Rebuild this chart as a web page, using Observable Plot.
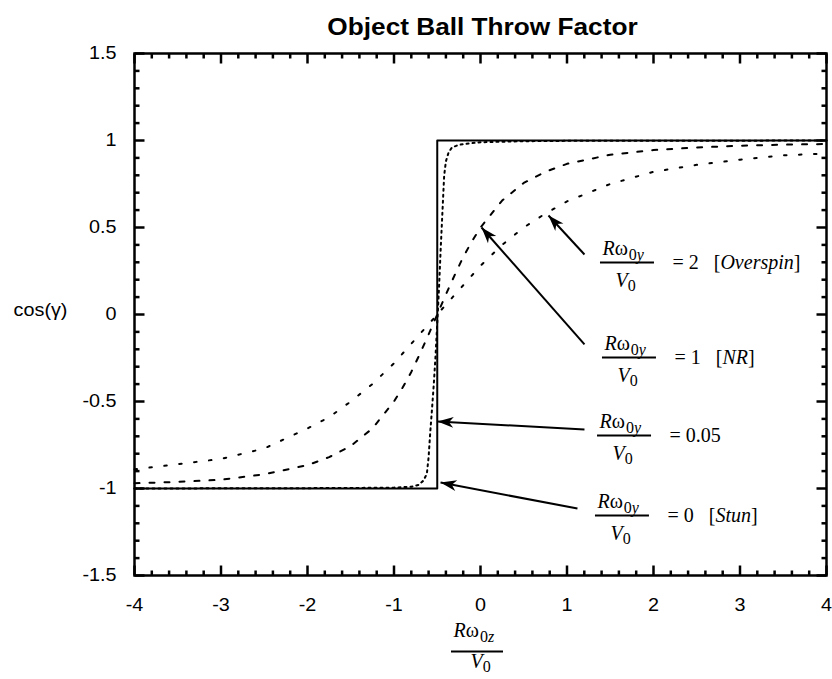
<!DOCTYPE html>
<html>
<head>
<meta charset="utf-8">
<script src="https://cdn.jsdelivr.net/npm/d3@7"></script>
<script src="https://cdn.jsdelivr.net/npm/@observablehq/plot@0.6"></script>
<style>
  html, body { margin: 0; padding: 0; background: #fff; }
  svg { display: block; }
</style>
</head>
<body>
<div id="chart"></div>
<script>
// ---------- texts ----------
const title = "Object Ball Throw Factor";
const yLabel = "cos(γ)";
const xTickValues = [-4, -3, -2, -1, 0, 1, 2, 3, 4];
const xTickLabels = ["-4", "-3", "-2", "-1", "0", "1", "2", "3", "4"];
const yTickValues = [-1.5, -1, -0.5, 0, 0.5, 1, 1.5];
const yTickLabels = ["-1.5", "-1", "-0.5", "0", "0.5", "1", "1.5"];

// ---------- series ----------
// R w0y / V0 = 0  [Stun]  (solid)
const stunX = [-4, -0.5, -0.5, 4];
const stunY = [-1, -1, 1, 1];
// R w0y / V0 = 0.05  (dense dots)
const spin005X = [-4, -3, -2, -1.5, -1, -0.8, -0.72, -0.66, -0.62, -0.6, -0.58, -0.56, -0.54, -0.52, -0.5, -0.48, -0.46, -0.44, -0.42, -0.4, -0.37, -0.33, -0.25, -0.1, 0, 0.5, 1, 2, 3, 4];
const spin005Y = [-1, -0.999, -0.998, -0.997, -0.995, -0.99, -0.98, -0.955, -0.915, -0.82, -0.67, -0.54, -0.4, -0.24, -0.05, 0.15, 0.38, 0.59, 0.8, 0.88, 0.93, 0.96, 0.975, 0.985, 0.99, 0.996, 0.998, 0.999, 0.999, 1];
// R w0y / V0 = 1  [NR]  (dashes)
const nrX = [-4, -3.5, -3, -2.5, -2, -1.75, -1.5, -1.25, -1, -0.9, -0.8, -0.7, -0.6, -0.5, -0.4, -0.3, -0.2, -0.1, 0, 0.25, 0.5, 0.75, 1, 1.5, 2, 2.5, 3, 3.5, 4];
const nrY = [-0.97, -0.962, -0.95, -0.918, -0.866, -0.82, -0.756, -0.655, -0.5, -0.42, -0.33, -0.225, -0.115, 0, 0.115, 0.225, 0.33, 0.42, 0.5, 0.655, 0.756, 0.82, 0.866, 0.918, 0.945, 0.96, 0.97, 0.976, 0.98];
// R w0y / V0 = 2  [Overspin]  (sparse dots)
const overX = [-4, -3.5, -3, -2.5, -2, -1.75, -1.5, -1.25, -1, -0.75, -0.5, -0.25, 0, 0.25, 0.5, 0.75, 1, 1.25, 1.5, 2, 2.5, 3, 3.5, 4];
const overY = [-0.89, -0.86, -0.83, -0.77, -0.655, -0.59, -0.5, -0.4, -0.28, -0.14, 0, 0.14, 0.28, 0.4, 0.5, 0.58, 0.65, 0.7, 0.75, 0.82, 0.86, 0.89, 0.915, 0.925];

// ---------- annotations (data units) ----------
const labelSpin = ["2", "1", "0.05", "0"];
const labelName = ["Overspin", "NR", "", "Stun"];
const labelX = [1.387, 1.410, 1.353, 1.329];   // left end of fraction bar
const labelY = [0.299, -0.247, -0.695, -1.155]; // fraction bar height
const arrowX1 = [1.202, 1.202, 1.202, 1.121];   // tail
const arrowY1 = [0.345, -0.172, -0.661, -1.115];
const arrowX2 = [0.786, 0.012, -0.497, -0.462]; // head
const arrowY2 = [0.569, 0.5, -0.615, -0.966];

// ---------- layout ----------
const W = 832, H = 679;
const mL = 134, mR = 6, mT = 53, mB = 104;
const kx = (W - mL - mR) / 8;   // px per x unit
const ky = (H - mT - mB) / 3;   // px per y unit
const serif = "'Liberation Serif', 'Times New Roman', Times, serif";
const sans = "'Liberation Sans', Arial, Helvetica, sans-serif";

const rows = (xs, ys) => xs.map((x, i) => ({x, y: ys[i]}));
const idx = labelSpin.map((d, i) => i);
const xMinor = d3.range(-40, 41, 2).filter(v => v % 10 !== 0).map(v => v / 10);
const yMinor = d3.range(-15, 16).filter(v => v % 5 !== 0).map(v => v / 10);
const major = 10, minor = 5;

const arrowHead = {
  draw(ctx) {
    ctx.moveTo(0, 0);
    ctx.lineTo(5.5, 16);
    ctx.lineTo(0, 11.5);
    ctx.lineTo(-5.5, 16);
    ctx.closePath();
  }
};
const tickSymbol = len => ({
  draw(ctx) {
    ctx.moveTo(0, 0);
    ctx.lineTo(0, -len);
  }
});
const headAngle = i => {
  const sx = (arrowX2[i] - arrowX1[i]) * kx;
  const sy = -(arrowY2[i] - arrowY1[i]) * ky;
  return Math.atan2(sx, -sy) * 180 / Math.PI;
};

const lineStyle = {x: "x", y: "y", stroke: "#000", strokeWidth: 2};
const tickStyle = {stroke: "#000", strokeWidth: 2.5};

// inward tick segments on all four sides (symbol pointing up, rotated per side)
const ticksAt = (vals, len, side) => {
  const pos = side === "bottom" ? {x: d => d, y: () => -1.5, rotate: 0}
    : side === "top" ? {x: d => d, y: () => 1.5, rotate: 180}
    : side === "left" ? {y: d => d, x: () => -4, rotate: 90}
    : {y: d => d, x: () => 4, rotate: -90};
  return Plot.dot(vals, {...pos, symbol: tickSymbol(len), fill: "none", ...tickStyle});
};

const marks = [
  // curves
  Plot.line(rows(stunX, stunY), {...lineStyle}),
  Plot.line(rows(spin005X, spin005Y), {...lineStyle, strokeDasharray: "2,4"}),
  Plot.line(rows(nrX, nrY), {...lineStyle, strokeDasharray: "5,10"}),
  Plot.line(rows(overX, overY), {...lineStyle, strokeDasharray: "2.5,12.5"}),

  // tick labels
  Plot.text(xTickValues, {x: d => d, text: (d, i) => xTickLabels[i], frameAnchor: "bottom", dy: 35,
    fontFamily: sans, fontSize: 18, fill: "#000"}),
  Plot.text(yTickValues, {y: d => d, text: (d, i) => yTickLabels[i], frameAnchor: "left", dx: -18,
    textAnchor: "end", fontFamily: sans, fontSize: 18, fill: "#000"}),

  // title and y label
  Plot.text([title], {text: d => d, frameAnchor: "top", dx: 2, dy: -35, fontFamily: sans,
    fontSize: 23, fontWeight: "bold", fill: "#000"}),
  Plot.text([yLabel], {text: d => d, frameAnchor: "left", dx: -94, dy: -4, textAnchor: "middle",
    fontFamily: sans, fontSize: 18, fill: "#000"}),

  // x label as fraction R w0z / V0
  Plot.text([0], {x: d => d, frameAnchor: "bottom", text: () => "Rω0z", textAnchor: "start",
    dx: -27, dy: 61.6, fontFamily: serif, fontSize: 20, fill: "#000"}),
  Plot.ruleY([0], {y: -1.5 - 76 / ky, x1: -29 / kx, x2: 23 / kx, strokeWidth: 2}),
  Plot.text([0], {x: d => d, frameAnchor: "bottom", text: () => "V0", textAnchor: "start",
    dx: -10, dy: 92.6, fontFamily: serif, fontSize: 20, fill: "#000"}),

  // annotation arrows
  Plot.link(idx, {x1: i => arrowX1[i], y1: i => arrowY1[i], x2: i => arrowX2[i], y2: i => arrowY2[i],
    stroke: "#000", strokeWidth: 2}),
  Plot.dot(idx, {x: i => arrowX2[i], y: i => arrowY2[i], symbol: arrowHead, rotate: headAngle,
    fill: "#000", stroke: "none"}),

  // annotation labels
  Plot.ruleY(idx, {y: i => labelY[i], x1: i => labelX[i], x2: i => labelX[i] + 54 / kx, strokeWidth: 2}),
  Plot.text(idx, {x: i => labelX[i], y: i => labelY[i], text: () => "Rω0y", textAnchor: "start",
    dx: 2, dy: -13.4, fontFamily: serif, fontSize: 20, fill: "#000"}),
  Plot.text(idx, {x: i => labelX[i], y: i => labelY[i], text: () => "V0", textAnchor: "start",
    dx: 15, dy: 18.6, fontFamily: serif, fontSize: 20, fill: "#000"}),
  Plot.text(idx, {x: i => labelX[i], y: i => labelY[i],
    text: i => "= " + labelSpin[i] + (labelName[i] ? " [" + labelName[i] + "]" : ""),
    textAnchor: "start", dx: 72, dy: 0.6, fontFamily: serif, fontSize: 20, fill: "#000"}),

  // frame and inward ticks, drawn last
  Plot.frame({stroke: "#000", strokeWidth: 2.5}),
  ticksAt(xTickValues, major, "bottom"), ticksAt(xTickValues, major, "top"),
  ticksAt(xMinor, minor, "bottom"), ticksAt(xMinor, minor, "top"),
  ticksAt(yTickValues, major, "left"), ticksAt(yTickValues, major, "right"),
  ticksAt(yMinor, minor, "left"), ticksAt(yMinor, minor, "right")
];

const svg = Plot.plot({
  width: W, height: H,
  marginLeft: mL, marginRight: mR, marginTop: mT, marginBottom: mB,
  x: {domain: [-4, 4], axis: null},
  y: {domain: [-1.5, 1.5], axis: null},
  style: {background: "#fff", color: "#000", fontFamily: sans, overflow: "visible"},
  marks
});
document.getElementById("chart").appendChild(svg);

// ---------- rich text (italics and subscripts) ----------
const NS = "http://www.w3.org/2000/svg";
function setRich(el, parts) {
  el.textContent = "";
  for (const p of parts) {
    const ts = document.createElementNS(NS, "tspan");
    ts.textContent = p.t;
    if (p.italic) ts.setAttribute("font-style", "italic");
    if (p.size) ts.setAttribute("font-size", p.size);
    if (p.dy != null) ts.setAttribute("dy", p.dy);
    if (p.dx != null) ts.setAttribute("dx", p.dx);
    el.appendChild(ts);
  }
}
const sansSet = new Set([...xTickLabels, ...yTickLabels]);
svg.querySelectorAll("text").forEach(t => {
  const s = t.textContent;
  if (s === "Rω0y" || s === "Rω0z") {
    setRich(t, [{t: "R", italic: true}, {t: "ω"}, {t: "0", size: 16, dy: 5, dx: 1}, {t: s.slice(-1), italic: true, size: 16}]);
  } else if (s === "V0") {
    setRich(t, [{t: "V", italic: true}, {t: "0", size: 16, dy: 4}]);
  } else if (s.startsWith("= ")) {
    const m = s.match(/^= (\S+)(?: \[(.+)\])?$/);
    const parts = [{t: "= " + m[1]}];
    if (m[2]) parts.push({t: " [", dx: 10}, {t: m[2], italic: true}, {t: "]"});
    setRich(t, parts);
  } else if (sansSet.has(s) || s === title || s === yLabel) {
    const f = s === title ? 1.14 : 1.1;
    const w = t.getComputedTextLength();
    t.setAttribute("textLength", (w * f).toFixed(1));
    t.setAttribute("lengthAdjust", "spacingAndGlyphs");
  }
});
</script>
</body>
</html>
